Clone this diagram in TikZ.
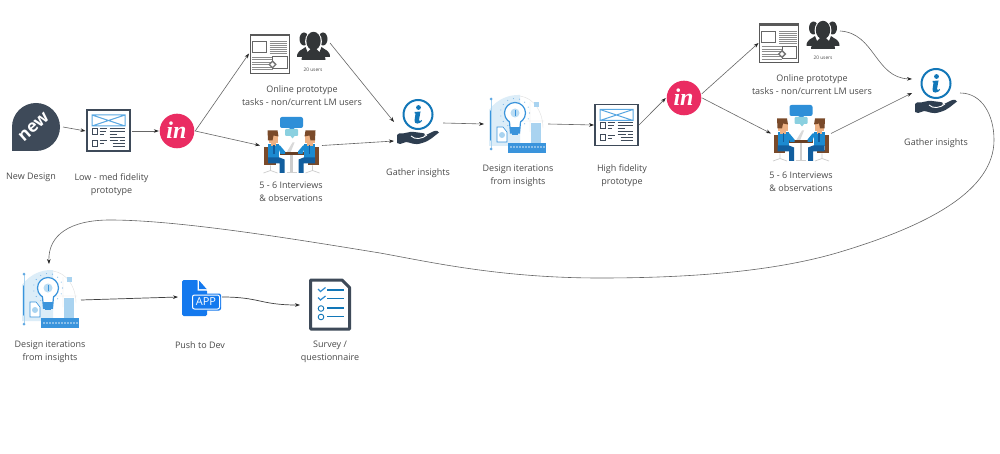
\documentclass[tikz,border=0pt]{standalone}
\usepackage{fontspec}
\setmainfont{Open Sans}
\newfontfamily\logofont{Liberation Serif}
\usetikzlibrary{arrows.meta,calc}
\definecolor{txt}{HTML}{4A4A4A}
\definecolor{lnk}{HTML}{666666}
\definecolor{frame}{HTML}{3E4A59}
\definecolor{wireblue}{HTML}{5AA8E2}
\definecolor{pink}{HTML}{EA2C62}
\definecolor{infoblue}{HTML}{1277B8}
\definecolor{handdark}{HTML}{2E3E50}
\definecolor{paleblue}{HTML}{DCEDF8}
\definecolor{midblue}{HTML}{3A94DC}
\definecolor{lightb}{HTML}{A9D3F0}
\definecolor{appblue}{HTML}{1479EE}
\definecolor{brownc}{HTML}{7A4A2A}
\definecolor{skin}{HTML}{EDB184}
\definecolor{shirt}{HTML}{1C8AD0}
\definecolor{pants}{HTML}{125E9E}
\definecolor{bubble}{HTML}{2E8FD8}
\definecolor{tealb}{HTML}{8AD0E0}
\definecolor{people}{HTML}{333638}
\tikzset{
  x=1pt,y=-1pt,
  anchorbox/.style={inner sep=0pt,outer sep=0pt,minimum width=#1},
  lab/.style={align=center,text=txt,font=\fontsize{9}{13}\selectfont,inner sep=0pt},
  tiny/.style={text=txt,font=\fontsize{4.8}{6}\selectfont,inner sep=0pt},
  link/.style={draw=lnk,line width=0.6pt,-{Stealth[length=5pt,width=3.6pt,color=black!85]}},
  darklink/.style={link,draw=black!75,line width=0.7pt},
  pics/wire/.style={code={
    \draw[frame,line width=1.5pt,fill=white] (-21.5,-20.5) rectangle (21.5,20.5);
    \draw[wireblue,line width=1pt] (-16.5,-15.5) rectangle (16.5,-4.5) (-16.5,-15.5)--(16.5,-4.5) (-16.5,-4.5)--(16.5,-15.5);
    \draw[frame,line width=.9pt] (-16,-2.5) rectangle (-11.5,3.5) (-16,9.5) rectangle (-11.5,15.5);
    \draw[frame,line width=.9pt] (-9,-2.5)--(-2,-2.5) (-9,0.5)--(-3,0.5) (-9,3.5)--(-5,3.5) (-9,10)--(-2,10) (-9,13)--(-5,13);
    \draw[frame,line width=.9pt] (1,-2.5)--(16.5,-2.5) (1,0.5)--(16.5,0.5) (1,3.5)--(8,3.5) (1,6.5)--(16.5,6.5) (1,9.5)--(9,9.5) (11,9.5)--(16.5,9.5) (4,12.5)--(16.5,12.5) (4,15.5)--(16.5,15.5);
  }},
  pics/online/.style={code={
    \draw[black!65,line width=.8pt,fill=white] (-19.5,-19.5) rectangle (19.5,19.5);
    \draw[black!65,line width=1.2pt] (-19.5,-18)--(19.5,-18);
    \draw[black!60,line width=.7pt] (-17.5,-12) rectangle (-3.5,-1);
    \foreach \yy in {-12,-10,-8,-6,-4,-2,0}{\draw[black!45,line width=.9pt] (0,\yy)--(17.5,\yy);}
    \foreach \yy in {3.5,6,8.5,11,13.5,16}{\draw[black!45,line width=.9pt] (-17.5,\yy)--(3,\yy);}
    \draw[black!60,line width=.7pt,fill=white] (3,3) rectangle (17.5,15);
    \fill[black!55,rotate around={45:(3,11)}] (0,8) rectangle (6,14);
    \fill[white,rotate around={45:(3,11)}] (1.5,9.5) rectangle (4.5,12.5);
  }},
  pics/users/.style={code={
    \fill[people] (-9.5,-6) ellipse (4.5 and 6.5);
    \fill[people] (9.5,-6) ellipse (4.5 and 6.5);
    \fill[people] (-16.5,12) .. controls (-16.5,5) and (-11,5) .. (-8,2) -- (-4,12) -- cycle;
    \fill[people] (16.5,12) .. controls (16.5,5) and (11,5) .. (8,2) -- (4,12) -- cycle;
    \fill[white] (0,-3.5) ellipse (8.4 and 10.5);
    \fill[people] (0,-4) ellipse (7.2 and 9.2);
    \fill[people] (-12,15) .. controls (-12,8) and (-5,8) .. (-3,4) -- (3,4) .. controls (5,8) and (12,8) .. (12,15) -- cycle;
  }},
  person/.pic={
    \fill[brownc] (-27.5,1.5) rectangle (-23.5,19.5);
    \fill[brownc] (-27.5,16.5) rectangle (-16,20);
    \draw[black!20,line width=.7pt] (-21,20)--(-21,25) (-28,27.5)--(-21,25)--(-14,27.5);
    \fill[shirt] (-23.5,-1) rectangle (-12.5,13);
    \fill[shirt] (-14,0) -- (-11.5,0) -- (-6.5,6) -- (-6.5,8.5) -- (-11,8.5) -- cycle;
    \fill[pants] (-23.5,12) -- (-12,12) -- (-7,14) -- (-7,27.5) -- (-12,27.5) -- (-12,18) -- (-23.5,18) -- cycle;
    \fill[skin] (-23,-10) rectangle (-13.5,-2);
    \fill[skin] (-21,-2) rectangle (-15.5,0.5);
    \fill[brownc] (-24,-15) -- (-14,-15) -- (-13,-9) -- (-18,-10) -- (-19,-5) -- (-23.5,-5) -- cycle;
    \fill[pants] (-18.5,0) rectangle (-17,9);
  },
  pics/interview/.style={code={
    \fill[bubble,rounded corners=2pt] (-11.5,-28.5) rectangle (11.5,-17.5);
    \fill[bubble] (-3,-17.5)--(3,-17.5)--(1,-15.5)--cycle;
    \fill[tealb,rounded corners=1pt] (-6.5,-16.5) rectangle (6.5,-9.5);
    \fill[tealb] (-1,-9.5)--(3,-9.5)--(1,-7)--cycle;
    \fill[black!15] (-5,7)--(-1,7)--(3,-3)--(1,-3)--cycle;
    \fill[black!20] (-1.2,8) rectangle (1.2,27.5);
    \draw[black!18,line width=1pt] (-5,27.5)--(5,27.5);
    \fill[brownc!85!black] (-12,7) rectangle (12,9.5);
    \pic at (0,0) {person};
    \pic[xscale=-1] at (0,0) {person};
  }},
  pics/gather/.style={code={
    \draw[infoblue,line width=2pt] (0,-17.5) circle (14.5);
    \fill[infoblue] (0.5,-24.5) circle (2.4);
    \fill[infoblue] (-3.5,-20) -- (2.5,-20.5) -- (1,-12) .. controls (1,-10) and (3,-11) .. (3.5,-12) -- (4,-11) .. controls (2,-8) and (-4,-7) .. (-3.5,-11.5) -- (-2.5,-18.5) -- (-3.5,-18.5) -- cycle;
    \fill[handdark] (-21,3) -- (-19,1.5) .. controls (-12,2) and (-9,-1) .. (-4,0) -- (4,1) .. controls (7,1) and (8,3) .. (5,4) -- (6,4) -- (15,-0.5) .. controls (18,-2) and (21,-1) .. (21,0.5) .. controls (16,4) and (12,9) .. (4,11) .. controls (-4,14) and (-8,10) .. (-12,10) -- (-18,12) -- (-21,11) -- cycle;
    \draw[white,line width=.9pt] (-7,4) .. controls (-3,8) and (4,7) .. (9,3);
  }},
  pics/design/.style={code={
    \fill[paleblue] (-27,22) -- (-27,-14) .. controls (-18,-26) and (-6,-29) .. (2,-29) -- (4,-29) -- (4,22) -- cycle;
    \foreach \aa in {0,24,...,340}{\fill[midblue!70] ($(-1,-11)+(\aa:14.5)$) circle (.55);}
    \draw[black!12,line width=.4pt] (4,-28) .. controls (18,-26) and (27,-12) .. (27,4) (4,-3)--(28,-3) (14,-22)--(14,8);
    \fill[white,draw=midblue,line width=1.2pt] (-1,-11) circle (10.5);
    \fill[white] (-6,-3) rectangle (4,0);
    \draw[midblue,line width=1.2pt,fill=white] (-6.5,-2)--(-5.5,9)--(3.5,9)--(4.5,-2);
    \fill[midblue] (-6,3) rectangle (4,9.5);
    \fill[midblue] (-4,9) rectangle (2,11);
    \fill[lightb!80] (-1,-11) circle (4.5);
    \fill[midblue] (-1.5,-14) rectangle (-.5,-8);
    \draw[midblue,line width=1.7pt,line cap=round] (-25,-13)--(-25,16);
    \draw[lightb,line width=.7pt] (-25,-24)--(-25,24);
    \fill[midblue!80] (-25,-25) circle (1.5) (-25,25) circle (1.5);
    \fill[white,draw=midblue,line width=.6pt] (-19,3)--(-13,3)--(-9,8)--(-9,18)--(-19,18)--cycle;
    \fill[lightb] (-14,11) circle (3);
    \fill[lightb] (15,-1) rectangle (25,19);
    \fill[lightb] (18,-22) rectangle (23,-17);
    \fill[midblue] (-8,19) rectangle (30,29);
    \foreach \xx in {-6,-3,...,28}{\fill[white!40!midblue] (\xx,22.5) rectangle (\xx+1.5,24.5);}
  }},
  pics/appicon/.style={code={
    \fill[appblue,rounded corners=1.5pt] (-18,-17) -- (-2,-17) -- (7,-7) -- (7,19) -- (-18,19) -- cycle;
    \fill[white] (-2.5,-17.5) -- (7.5,-6.5) -- (-2.5,-6.5) -- cycle;
    \fill[appblue] (-1,-16.5) -- (6.5,-8) -- (-1,-8) -- cycle;
    \fill[appblue,rounded corners=2pt] (-9,-3.5) rectangle (21,13.5);
    \draw[white,line width=1pt,rounded corners=2pt] (-7.5,-2) rectangle (19.5,12);
  }},
  pics/survey/.style={code={
    \draw[frame,line width=3pt,fill=white,line join=round] (-19.5,-24.5) -- (12,-24.5) -- (19.5,-17) -- (19.5,24.5) -- (-19.5,24.5) -- cycle;
    \draw[midblue!70!infoblue,line width=1.2pt] (-12,-15.5)--(-9.5,-13)--(-4.5,-17) (-12,-7)--(-9.5,-4.5)--(-4.5,-8.5);
    \draw[infoblue,line width=.9pt] (-9,4) circle (2.8) (-9,12.5) circle (2.8);
    \draw[infoblue,line width=1.2pt] (-3,-14.5)--(14,-14.5) (-3,-6)--(14,-6) (-3,3.5)--(14,3.5) (-3,12)--(14,12);
  }},
  pics/newicon/.style={code={
    \fill[frame] (0,0) circle (24);
    \fill[frame] (-24,0) rectangle (0,24);
  }},
  pics/invision/.style={code={
    \fill[pink] (0,0) circle (17.3);
  }},
  logotext/.style={text=white,font=\logofont\fontsize{24}{24}\selectfont\itshape\bfseries,inner sep=0pt},
  newtext/.style={text=white,rotate=42,font=\fontsize{17}{17}\selectfont\bfseries,inner sep=0pt},
}
\begin{document}
\begin{tikzpicture}
\useasboundingbox (0,0) rectangle (1000,454);
\fill[white] (0,0) rectangle (1000,454);
% anchor nodes
\node[anchorbox=52pt,minimum height=48pt] (new) at (37,127) {};
\node[anchorbox=46pt,minimum height=44pt] (wireA) at (108.5,131) {};
\node[circle,inner sep=0pt,minimum size=36pt] (inA) at (177,131) {};
\node[anchorbox=41pt,minimum height=40pt] (onlineA) at (269.5,53.5) {};
\node[anchorbox=34pt,minimum height=28pt] (usersA) at (313,43) {};
\node[anchorbox=62pt,minimum height=58pt] (interA) at (291,145.5) {};
\node[anchorbox=49pt,minimum height=38pt] (gatherA) at (418.5,131.5) {};
\node[anchorbox=64pt,minimum height=58pt] (designA) at (516,124) {};
\node[anchorbox=45pt,minimum height=44pt] (wireB) at (616.5,125) {};
\node[circle,inner sep=0pt,minimum size=36pt] (inB) at (684,98) {};
\node[anchorbox=41pt,minimum height=40pt] (onlineB) at (779,43) {};
\node[anchorbox=34pt,minimum height=28pt] (usersB) at (823,31) {};
\node[anchorbox=60pt,minimum height=58pt] (interB) at (801,133.5) {};
\node[anchorbox=48pt,minimum height=38pt] (gatherB) at (936,100) {};
\node[anchorbox=64pt,minimum height=72pt] (designB) at (49,300) {};
\node[anchorbox=44pt,minimum height=38pt] (app) at (200,297) {};
\node[anchorbox=60pt,minimum height=52pt] (survey) at (330,305) {};
% icons
\pic at (36,127) {newicon};
\node[newtext] (newlab) at (34,127) {new};
\pic at (108.5,130.5) {wire};
\pic at (177,131) {invision};
\node[logotext] (inlabA) at (176.5,130) {in};
\pic at (269.5,53.5) {online};
\pic at (313.5,45) {users};
\node[tiny] (usersAlab) at (313,70) {20 users};
\pic at (291.5,145.5) {interview};
\pic at (418,132) {gather};
\pic at (516,124) {design};
\pic at (616.5,125) {wire};
\pic at (684,98) {invision};
\node[logotext] (inlabB) at (683.5,97) {in};
\pic at (779,43) {online};
\pic at (823,34) {users};
\node[tiny] (usersBlab) at (823,58) {20 users};
\pic at (801,133.5) {interview};
\pic at (936,101) {gather};
\pic at (49,299) {design};
\pic at (200,297) {appicon};
\node[text=white,font=\fontsize{11}{11}\selectfont,inner sep=0pt] (apptxt) at (206,302) {APP};
\pic at (330,304.5) {survey};
% labels
\node[lab] (l1) at (31,177) {New Design};
\node[lab] (l2) at (111.5,185) {Low - med fidelity\\prototype};
\node[lab] (l3) at (302,96) {Online prototype\\tasks - non/current LM users};
\node[lab] (l4) at (291,192) {5 - 6 Interviews\\\& observations};
\node[lab] (l5) at (418,173) {Gather insights};
\node[lab] (l6) at (518,176) {Design iterations\\from insights};
\node[lab] (l7) at (622,176) {High fidelity\\prototype};
\node[lab] (l8) at (812,84.5) {Online prototype\\tasks - non/current LM users};
\node[lab] (l9) at (801,181.5) {5 - 6 Interviews\\\& observations};
\node[lab] (l10) at (936,143) {Gather insights};
\node[lab] (l11) at (50,351.5) {Design iterations\\from insights};
\node[lab] (l12) at (200,345) {Push to Dev};
\node[lab] (l13) at (330,351.5) {Survey /\\questionnaire};
% connectors
\draw[link] (new.east) -- (wireA.west);
\draw[link] (wireA.east) -- (inA.west);
\draw[link] (inA.east) -- (onlineA.west);
\draw[link] (inA.east) -- (interA.west);
\draw[link] (usersA.east) -- ([yshift=9.5pt]gatherA.west);
\draw[link] (interA.east) -- ([yshift=-9.5pt]gatherA.west);
\draw[link] ([yshift=8.5pt]gatherA.east) -- (designA.west);
\draw[link] (designA.east) -- (wireB.west);
\draw[link] (wireB.east) -- (inB.west);
\draw[link] (inB.13) -- (onlineB.west);
\draw[link] (inB.east) -- (interB.west);
\draw[link] (usersB.east) .. controls (875,33) and (875,78) .. ([yshift=21pt]gatherB.west);
\draw[link] (interB.east) -- ([yshift=7pt]gatherB.west);
\draw[link] ([yshift=7pt]gatherB.east) .. controls (982,93) and (994,115) .. (994,140) .. controls (994,190) and (930,225) .. (840,252) .. controls (780,270) and (700,278) .. (600,278) .. controls (500,278) and (430,262) .. (380,253) .. controls (300,240) and (180,220) .. (110,220) .. controls (70,220) and (48,235) .. (designB.north);
\draw[darklink] (designB.east) -- (app.west);
\draw[darklink] (app.east) .. controls (260,297) and (260,305) .. (survey.west);
\end{tikzpicture}
\end{document}
